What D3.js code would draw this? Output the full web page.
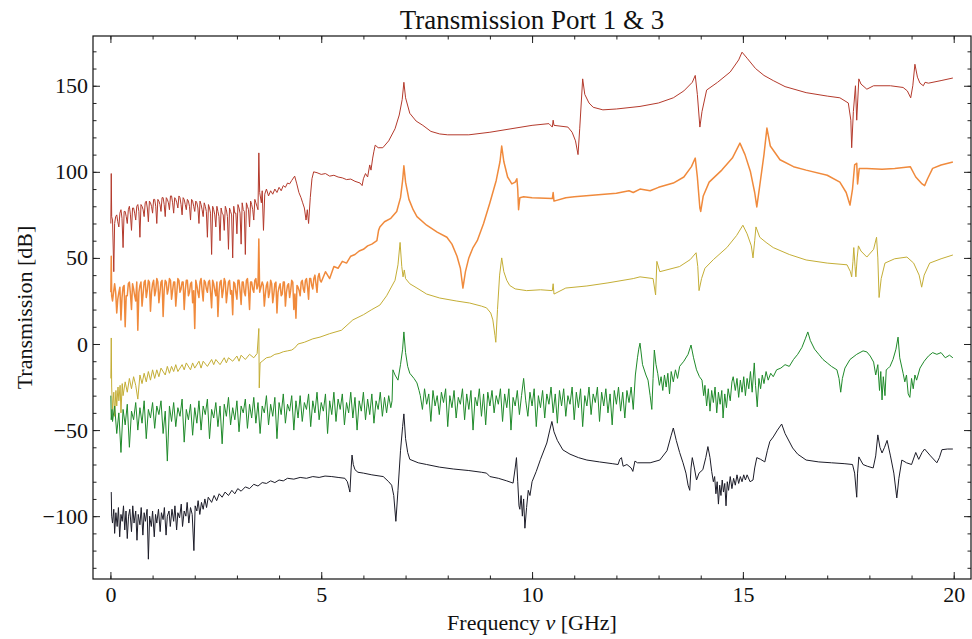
<!DOCTYPE html>
<html lang="en">
<head>
<meta charset="UTF-8">
<title>Transmission Port 1 &amp; 3</title>
<script src="https://d3js.org/d3.v7.min.js"></script>
<style>
  body { margin: 0; background: #fff; }
  svg { display: block; font-family: "Liberation Serif", "Times New Roman", serif; }
  .axis path { display: none; }
  .axis line { stroke: #222; }
  .axis text { font-size: 22px; fill: #111; font-family: "Liberation Serif", serif; }
  .trace { fill: none; stroke-linejoin: round; }
</style>
</head>
<body>
<script>
// [frequency GHz, transmission dB]
const red = [[0.01,70],[0.02,99],[0.03,74],[0.05,72],[0.08,42],[0.1,70],[0.15,75],[0.2,68],[0.25,78],[0.3,56],[0.35,77],[0.4,70],[0.45,80],[0.5,66],[0.55,79],[0.6,72],[0.65,81],[0.7,62],[0.75,80],[0.8,74],[0.85,83],[0.9,71],[0.95,82],[1.0,76],[1.05,84],[1.1,70],[1.15,83],[1.2,77],[1.25,85],[1.3,74],[1.35,84],[1.4,78],[1.45,86],[1.5,76],[1.55,84],[1.6,79],[1.65,85],[1.7,75],[1.75,84],[1.8,78],[1.85,83],[1.9,72],[1.95,83],[2.0,77],[2.05,82],[2.1,70],[2.15,81],[2.2,74],[2.25,80],[2.3,62],[2.35,79],[2.4,52],[2.45,78],[2.5,68],[2.55,77],[2.6,60],[2.65,76],[2.7,66],[2.75,78],[2.8,55],[2.85,77],[2.9,50],[2.95,76],[3.0,64],[3.05,79],[3.1,58],[3.15,78],[3.2,52],[3.25,80],[3.3,68],[3.35,81],[3.4,72],[3.45,82],[3.5,78],[3.52,111],[3.54,88],[3.58,82],[3.6,89],[3.63,66],[3.66,87],[3.7,90],[3.75,86],[3.8,89],[3.85,87],[3.9,90],[3.95,88],[4.0,91],[4.05,89],[4.1,92],[4.15,91],[4.2,93.5],[4.25,93],[4.3,95],[4.37,97.5],[4.42,93],[4.47,88],[4.52,85],[4.56,82],[4.6,79],[4.64,72],[4.67,78],[4.7,70],[4.74,85],[4.78,96],[4.82,100],[4.9,99.5],[5.0,98.5],[5.1,99],[5.2,97.5],[5.3,98],[5.4,97],[5.5,96.5],[5.6,95.5],[5.7,95.8],[5.8,94.5],[5.92,93.5],[5.97,92],[6.0,96],[6.05,99],[6.1,97],[6.15,104],[6.18,101],[6.22,108],[6.25,112],[6.28,115.5],[6.35,114],[6.46,114],[6.6,118],[6.75,125],[6.85,133],[6.92,142],[6.96,152],[7.0,143],[7.1,134],[7.25,129.5],[7.41,127],[7.6,123.5],[7.81,122],[8.0,121.5],[8.5,121.5],[9.0,123],[9.5,125],[10.0,127],[10.4,128],[10.48,126],[10.5,130],[10.52,127],[10.85,126],[10.95,123],[11.03,118],[11.09,110],[11.13,125],[11.2,154],[11.25,145],[11.35,140],[11.45,137.5],[11.68,136],[12.0,136.5],[12.56,138],[13.0,140],[13.35,143],[13.6,147],[13.8,152],[13.87,156],[13.92,145],[13.98,126],[14.03,135],[14.14,147.5],[14.4,152],[14.7,158],[14.9,165],[14.98,169.5],[15.1,166],[15.3,160],[15.5,156],[15.72,153],[16.0,149.5],[16.5,146],[17.0,144],[17.3,143],[17.5,140],[17.56,130],[17.58,114],[17.62,135],[17.67,150],[17.7,130],[17.75,154],[17.8,151],[17.94,148],[18.1,150],[18.5,150],[18.8,149],[18.9,147],[18.98,143],[19.03,150],[19.08,162.5],[19.14,155],[19.2,151.5],[19.28,150],[19.32,152],[19.4,151.5],[19.7,153],[19.98,154.5]];
// extra samples inside the dense low-frequency noise band
const redBand = [[0.125,74],[0.175,71],[0.225,76],[0.275,73],[0.325,77],[0.375,74],[0.425,78],[0.475,75],[0.525,79],[0.575,76],[0.625,80],[0.675,77],[0.725,81],[0.775,78],[0.825,82],[0.875,79],[0.925,83],[0.975,80],[1.025,84],[1.075,80],[1.125,84],[1.175,81],[1.225,85],[1.275,81],[1.325,85],[1.375,82],[1.425,86],[1.475,82],[1.525,85],[1.575,82],[1.625,86],[1.675,81],[1.725,85],[1.775,81],[1.825,84],[1.875,80],[1.925,84],[1.975,80],[2.025,83],[2.075,79],[2.125,83],[2.175,78],[2.225,82],[2.275,77],[2.325,81],[2.375,76],[2.425,80],[2.475,75],[2.525,80],[2.575,74],[2.625,79],[2.675,75],[2.725,80],[2.775,74],[2.825,79],[2.875,75],[2.925,80],[2.975,76],[3.025,81],[3.075,76],[3.125,82],[3.175,77],[3.225,82],[3.275,78],[3.325,83],[3.375,78],[3.425,84],[3.475,80]];

const orange = [[0.01,30],[0.02,51],[0.03,28],[0.05,25],[0.1,35],[0.15,18],[0.2,30],[0.25,14],[0.3,33],[0.35,10],[0.4,28],[0.45,36],[0.5,20],[0.55,32],[0.6,25],[0.65,8],[0.7,34],[0.75,22],[0.8,36],[0.85,27],[0.9,37],[0.95,19],[1.0,35],[1.05,28],[1.1,38],[1.15,24],[1.2,36],[1.25,16],[1.3,37],[1.35,29],[1.4,38],[1.45,26],[1.5,36],[1.55,22],[1.6,38],[1.65,30],[1.7,36],[1.75,20],[1.8,37],[1.85,28],[1.9,35],[1.95,24],[2.0,9],[2.05,34],[2.1,27],[2.15,38],[2.2,25],[2.25,36],[2.3,30],[2.35,37],[2.4,21],[2.45,35],[2.5,28],[2.55,16],[2.6,36],[2.65,27],[2.7,38],[2.75,24],[2.8,36],[2.85,29],[2.9,17],[2.95,35],[3.0,26],[3.05,37],[3.1,23],[3.15,36],[3.2,28],[3.25,38],[3.3,20],[3.35,36],[3.4,30],[3.45,38],[3.5,34],[3.52,61],[3.54,30],[3.6,36],[3.65,22],[3.7,34],[3.75,27],[3.8,37],[3.85,24],[3.9,35],[3.95,18],[4.0,33],[4.05,28],[4.1,36],[4.15,22],[4.2,34],[4.25,27],[4.3,37],[4.35,20],[4.4,15],[4.45,33],[4.5,28],[4.55,37],[4.6,30],[4.65,38],[4.7,26],[4.75,38],[4.8,32],[4.85,40],[4.9,30],[4.95,41],[5.0,36],[5.1,42],[5.2,38],[5.3,45],[5.4,44],[5.5,48],[5.6,47],[5.7,51],[5.8,52],[5.9,54],[6.0,55],[6.1,57],[6.2,58],[6.32,60],[6.36,66],[6.39,68],[6.5,71],[6.65,73],[6.79,77],[6.88,85],[6.93,95],[6.96,103.5],[7.0,94],[7.08,84],[7.18,78],[7.27,74],[7.5,69],[7.75,65],[7.98,62],[8.1,58],[8.22,51],[8.3,44],[8.36,32.5],[8.42,42],[8.5,50],[8.6,56],[8.7,60],[8.85,70],[9.0,82],[9.15,95],[9.24,106],[9.28,115],[9.33,106],[9.42,97],[9.52,93],[9.6,94],[9.64,96],[9.66,90],[9.68,78],[9.71,85],[9.8,85.5],[10.0,85],[10.48,84.5],[10.5,88],[10.52,83],[10.8,85],[11.0,85.5],[11.5,86.5],[12.0,87.5],[12.3,89],[12.4,88],[12.56,90],[12.8,89],[13.0,91],[13.35,93.5],[13.6,97],[13.78,103],[13.87,108],[13.92,97],[13.98,79],[14.0,77],[14.06,86],[14.2,94],[14.5,101],[14.75,108],[14.93,116.7],[15.05,110],[15.18,100],[15.28,88],[15.33,79.6],[15.4,92],[15.5,110],[15.57,125.4],[15.65,115],[15.88,107],[16.2,103],[16.5,101],[17.0,98],[17.3,94],[17.45,88],[17.54,80.7],[17.6,90],[17.65,104],[17.7,105],[17.72,93],[17.76,102],[17.94,102],[18.3,101.5],[18.6,102],[18.97,103],[19.1,97],[19.25,93],[19.31,92],[19.38,96],[19.5,102],[19.7,104],[19.98,105.7]];
const orangeBand = [[0.125,30],[0.175,26],[0.225,33],[0.275,27],[0.325,34],[0.375,28],[0.425,35],[0.475,29],[0.525,35],[0.575,28],[0.625,36],[0.675,30],[0.725,36],[0.775,29],[0.825,37],[0.875,31],[0.925,36],[0.975,30],[1.025,37],[1.075,31],[1.125,36],[1.175,30],[1.225,37],[1.275,31],[1.325,36],[1.375,32],[1.425,37],[1.475,31],[1.525,36],[1.575,30],[1.625,37],[1.675,32],[1.725,36],[1.775,31],[1.825,37],[1.875,30],[1.925,36],[1.975,31],[2.025,37],[2.075,30],[2.125,36],[2.175,31],[2.225,37],[2.275,32],[2.325,36],[2.375,30],[2.425,37],[2.475,31],[2.525,36],[2.575,30],[2.625,37],[2.675,31],[2.725,36],[2.775,30],[2.825,37],[2.875,31],[2.925,36],[2.975,30],[3.025,37],[3.075,31],[3.125,36],[3.175,30],[3.225,37],[3.275,31],[3.325,36],[3.375,32],[3.425,37],[3.475,32],[3.625,34],[3.675,29],[3.725,36],[3.775,30],[3.825,35],[3.875,29],[3.925,36],[3.975,30],[4.025,35],[4.075,29],[4.125,36],[4.175,30],[4.225,35],[4.275,31],[4.325,36],[4.375,29],[4.425,34],[4.475,31],[4.525,36],[4.575,32],[4.625,37],[4.675,33],[4.725,38],[4.775,34],[4.825,38],[4.875,35],[4.925,39],[4.975,37]];

const yellow = [[0.01,-20],[0.02,3.5],[0.03,-25],[0.05,-38],[0.08,-28],[0.1,-42],[0.13,-27],[0.15,-36],[0.18,-25],[0.2,-33],[0.23,-24],[0.25,-40],[0.28,-23],[0.3,-30],[0.35,-22],[0.4,-28],[0.45,-20],[0.5,-26],[0.55,-19],[0.6,-24],[0.65,-32],[0.7,-18],[0.75,-23],[0.8,-17],[0.85,-22],[0.9,-16],[0.95,-21],[1.0,-15],[1.05,-20],[1.1,-15],[1.15,-19],[1.2,-14],[1.3,-18],[1.35,-13],[1.4,-17],[1.45,-13],[1.5,-16],[1.55,-12],[1.6,-16],[1.7,-12],[1.75,-15],[1.8,-11],[1.9,-15],[1.95,-11],[2.0,-14],[2.1,-10],[2.15,-14],[2.2,-10],[2.3,-13],[2.4,-9],[2.45,-12],[2.5,-9],[2.6,-12],[2.7,-8],[2.75,-11],[2.8,-8],[2.9,-10],[3.0,-7],[3.05,-10],[3.1,-6.5],[3.2,-9],[3.3,-6],[3.4,-8],[3.48,-5.5],[3.52,9],[3.53,-25.5],[3.55,-11],[3.6,-10],[3.7,-8],[3.8,-7.5],[3.9,-6],[4.0,-5.5],[4.1,-4.5],[4.2,-4],[4.3,-3.5],[4.37,-2.3],[4.45,0],[4.6,1],[4.8,3],[4.97,4],[5.2,6],[5.48,8],[5.75,14],[6.0,17],[6.2,20],[6.39,22.6],[6.55,28],[6.75,37],[6.82,46],[6.87,59],[6.91,45],[6.94,39],[6.97,43],[7.0,38],[7.1,35],[7.27,32.5],[7.5,29],[7.81,26.7],[8.2,25],[8.52,23.8],[8.8,22],[8.92,21],[9.02,18],[9.07,14],[9.12,5],[9.14,1],[9.18,20],[9.23,40],[9.28,50],[9.33,42],[9.4,37],[9.47,34],[9.6,32],[9.87,31],[10.2,31.5],[10.48,31],[10.5,35],[10.52,29],[10.8,32.5],[11.3,33.7],[11.8,35.5],[12.4,38],[12.56,39],[12.87,38],[12.93,28.5],[12.96,48],[13.03,42],[13.5,45],[13.75,49],[13.89,53],[13.93,45],[13.96,31],[14.02,38],[14.1,44],[14.3,49],[14.62,56],[14.85,63],[15.0,69],[15.1,64],[15.2,57],[15.24,50],[15.28,60],[15.31,68],[15.4,62],[15.55,59],[15.72,56],[16.1,52],[16.5,48.8],[17.0,47],[17.47,46],[17.55,42],[17.58,39],[17.61,48],[17.63,56],[17.66,45],[17.68,39],[17.71,50],[17.74,57],[17.8,54],[17.94,50.5],[18.1,55],[18.17,62],[18.2,50],[18.23,27],[18.28,38],[18.37,47],[18.6,49.5],[18.89,50.5],[19.05,47],[19.18,40],[19.24,33],[19.3,40],[19.43,47],[19.7,49.5],[19.98,51.7]];

const green = [[0.01,-30],[0.02,-44],[0.04,-38],[0.05,-45],[0.1,-36],[0.15,-52],[0.2,-40],[0.25,-63],[0.3,-38],[0.35,-47],[0.4,-35],[0.45,-60],[0.5,-39],[0.55,-44],[0.6,-34],[0.65,-50],[0.7,-37],[0.75,-46],[0.8,-33],[0.85,-55],[0.9,-38],[0.95,-43],[1.0,-34],[1.05,-49],[1.1,-36],[1.15,-41],[1.2,-33],[1.25,-52],[1.3,-39],[1.35,-68],[1.4,-36],[1.45,-45],[1.5,-34],[1.55,-48],[1.6,-37],[1.65,-42],[1.7,-32],[1.75,-57],[1.8,-38],[1.85,-44],[1.9,-35],[1.95,-53],[2.0,-37],[2.05,-46],[2.1,-33],[2.15,-50],[2.2,-36],[2.25,-41],[2.3,-32],[2.35,-55],[2.4,-38],[2.45,-43],[2.5,-34],[2.55,-48],[2.6,-36],[2.65,-58],[2.7,-35],[2.75,-42],[2.8,-31],[2.85,-47],[2.9,-37],[2.95,-44],[3.0,-33],[3.05,-51],[3.1,-36],[3.15,-40],[3.2,-32],[3.25,-49],[3.3,-35],[3.35,-43],[3.4,-31],[3.45,-46],[3.5,-34],[3.55,-52],[3.6,-36],[3.65,-40],[3.7,-30],[3.75,-47],[3.8,-35],[3.85,-42],[3.9,-31],[3.95,-55],[4.0,-34],[4.05,-41],[4.1,-29],[4.15,-46],[4.2,-35],[4.25,-39],[4.3,-30],[4.35,-50],[4.4,-33],[4.45,-43],[4.5,-30],[4.55,-45],[4.6,-34],[4.65,-38],[4.7,-29],[4.75,-48],[4.8,-33],[4.85,-40],[4.9,-28],[4.95,-44],[5.0,-34],[5.05,-39],[5.1,-29],[5.15,-52],[5.2,-33],[5.25,-41],[5.3,-28],[5.35,-45],[5.4,-32],[5.45,-38],[5.5,-29],[5.55,-47],[5.6,-34],[5.65,-40],[5.7,-28],[5.75,-43],[5.8,-31],[5.85,-50],[5.9,-33],[5.95,-39],[6.0,-28],[6.05,-44],[6.1,-32],[6.15,-41],[6.2,-29],[6.25,-46],[6.3,-33],[6.35,-38],[6.4,-28],[6.45,-42],[6.5,-31],[6.55,-40],[6.6,-30],[6.65,-37],[6.68,-33],[6.7,-15],[6.75,-18],[6.82,-21],[6.88,-12],[6.93,-3],[6.96,7],[7.0,-5],[7.05,-13],[7.1,-17],[7.2,-20],[7.27,-22.6],[7.32,-27],[7.35,-30],[7.4,-38],[7.45,-26],[7.5,-35],[7.55,-29],[7.6,-45],[7.65,-27],[7.7,-36],[7.75,-30],[7.8,-41],[7.85,-28],[7.9,-34],[7.95,-26],[8.0,-48],[8.05,-30],[8.1,-37],[8.15,-27],[8.2,-43],[8.25,-31],[8.3,-35],[8.35,-26],[8.4,-44],[8.45,-29],[8.5,-38],[8.55,-27],[8.6,-50],[8.65,-31],[8.7,-36],[8.75,-26],[8.8,-42],[8.85,-29],[8.9,-47],[8.95,-28],[9.0,-36],[9.05,-27],[9.1,-40],[9.15,-30],[9.2,-35],[9.25,-26],[9.3,-45],[9.35,-29],[9.4,-37],[9.45,-26],[9.5,-50],[9.55,-31],[9.6,-36],[9.65,-27],[9.7,-41],[9.75,-30],[9.8,-20],[9.85,-33],[9.9,-42],[9.95,-28],[10.0,-36],[10.05,-26],[10.1,-48],[10.15,-30],[10.2,-37],[10.25,-27],[10.3,-43],[10.35,-29],[10.4,-35],[10.45,-25],[10.5,-40],[10.55,-29],[10.6,-46],[10.65,-27],[10.7,-36],[10.75,-26],[10.8,-42],[10.85,-30],[10.9,-35],[10.95,-25],[11.0,-44],[11.05,-28],[11.1,-37],[11.15,-26],[11.2,-48],[11.25,-30],[11.3,-36],[11.35,-25],[11.4,-41],[11.45,-29],[11.5,-34],[11.55,-25],[11.6,-45],[11.65,-28],[11.7,-36],[11.75,-26],[11.8,-40],[11.85,-29],[11.9,-47],[11.95,-27],[12.0,-35],[12.05,-25],[12.1,-39],[12.15,-28],[12.2,-43],[12.25,-27],[12.3,-34],[12.35,-25],[12.4,-38],[12.45,-18],[12.5,-8],[12.53,-3],[12.56,0.5],[12.62,-12],[12.7,-18],[12.75,-21],[12.8,-30],[12.84,-38],[12.87,-20],[12.9,-3.5],[12.94,-12],[12.98,-17],[13.02,-24],[13.06,-19],[13.1,-27],[13.14,-18],[13.18,-25],[13.22,-17],[13.26,-29],[13.3,-16],[13.35,-22],[13.4,-15],[13.45,-20],[13.5,-13],[13.6,-10],[13.7,-6],[13.77,-0.6],[13.83,-8],[13.9,-15],[13.97,-19],[14.03,-21],[14.07,-30],[14.1,-24],[14.14,-36],[14.18,-26],[14.22,-39],[14.26,-27],[14.3,-34],[14.34,-25],[14.38,-40],[14.42,-28],[14.46,-35],[14.5,-27],[14.53,-43],[14.57,-29],[14.61,-37],[14.65,-26],[14.7,-33],[14.74,-22],[14.77,-19],[14.82,-27],[14.86,-20],[14.9,-31],[14.94,-21],[14.98,-28],[15.02,-19],[15.06,-30],[15.1,-20],[15.14,-26],[15.18,-16],[15.22,-28],[15.27,-11],[15.3,-24],[15.34,-36.5],[15.38,-20],[15.42,-26],[15.46,-18],[15.5,-23],[15.55,-16],[15.6,-21],[15.66,-17],[15.72,-19],[15.8,-15],[15.9,-14],[16.0,-12],[16.1,-13],[16.2,-9],[16.3,-6],[16.4,-2],[16.48,3],[16.54,7],[16.6,2],[16.7,-3],[16.8,-6],[16.9,-9],[17.0,-11],[17.1,-13],[17.23,-15],[17.28,-20],[17.32,-28],[17.36,-20],[17.42,-14],[17.54,-9],[17.7,-6],[17.85,-4],[17.94,-4.6],[18.02,-7],[18.1,-10.5],[18.15,-18],[18.2,-12],[18.24,-27],[18.27,-16],[18.3,-32.5],[18.33,-19],[18.37,-30],[18.4,-15],[18.45,-14],[18.49,-13],[18.56,-9],[18.63,-3],[18.68,4],[18.72,-8],[18.8,-17],[18.84,-22],[18.88,-18],[18.92,-29],[18.96,-31],[19.0,-20],[19.04,-26],[19.08,-18],[19.12,-21],[19.2,-14],[19.3,-10],[19.4,-7],[19.5,-5],[19.6,-6],[19.7,-5],[19.8,-8],[19.9,-6.5],[19.98,-8]];

const black = [[0.02,-86],[0.03,-100],[0.05,-104],[0.08,-96],[0.1,-110],[0.13,-98],[0.16,-106],[0.19,-95],[0.22,-112],[0.25,-99],[0.28,-103],[0.31,-94],[0.34,-108],[0.37,-97],[0.4,-113],[0.43,-100],[0.46,-96],[0.5,-109],[0.53,-94],[0.56,-104],[0.6,-97],[0.63,-114],[0.66,-99],[0.7,-105],[0.73,-95],[0.77,-111],[0.8,-98],[0.83,-103],[0.87,-96],[0.9,-125],[0.93,-100],[0.97,-106],[1.0,-97],[1.04,-112],[1.07,-99],[1.1,-104],[1.14,-96],[1.18,-109],[1.21,-98],[1.25,-102],[1.28,-95],[1.32,-111],[1.35,-100],[1.39,-97],[1.42,-106],[1.46,-96],[1.5,-103],[1.53,-94],[1.57,-108],[1.6,-98],[1.64,-101],[1.68,-93],[1.71,-106],[1.75,-97],[1.79,-100],[1.82,-92],[1.86,-104],[1.9,-95],[1.94,-99],[1.98,-120],[2.01,-94],[2.05,-97],[2.08,-91],[2.12,-99],[2.16,-92],[2.2,-96],[2.24,-90],[2.28,-95],[2.32,-89],[2.4,-92],[2.46,-88],[2.52,-91],[2.58,-87],[2.65,-89],[2.72,-86],[2.8,-88],[2.88,-85],[2.95,-87],[3.02,-84],[3.1,-85.5],[3.2,-83],[3.3,-84],[3.4,-81.5],[3.5,-82.5],[3.6,-80.5],[3.7,-81],[3.8,-79.5],[3.9,-80.5],[4.0,-79],[4.1,-79.5],[4.2,-78],[4.35,-78.5],[4.5,-77.5],[4.65,-78],[4.8,-77],[4.95,-77.5],[5.09,-76.7],[5.25,-77],[5.4,-77.5],[5.56,-78],[5.62,-80],[5.66,-84],[5.68,-86],[5.71,-72],[5.73,-64.5],[5.76,-70],[5.8,-73],[5.87,-74.5],[6.0,-75],[6.2,-76],[6.47,-77],[6.6,-80],[6.67,-82],[6.72,-88],[6.77,-103],[6.82,-85],[6.88,-62],[6.93,-48],[6.96,-40.6],[7.0,-55],[7.05,-63],[7.1,-67],[7.3,-69],[7.5,-70],[7.8,-71.5],[8.13,-72.6],[8.5,-73.5],[8.8,-74.5],[8.92,-75],[9.0,-77],[9.2,-78],[9.4,-79.5],[9.55,-80.8],[9.6,-72],[9.63,-66],[9.66,-80],[9.69,-94],[9.71,-96],[9.74,-88],[9.77,-100],[9.8,-90],[9.83,-107],[9.87,-95],[9.91,-85],[9.95,-88],[10.0,-80],[10.1,-74],[10.2,-67],[10.35,-57.5],[10.42,-50],[10.47,-45],[10.52,-51],[10.6,-56],[10.73,-61.5],[10.9,-64],[11.1,-66],[11.3,-67.4],[11.6,-68.5],[11.9,-69.5],[12.04,-70],[12.08,-67],[12.12,-66],[12.16,-71],[12.25,-70],[12.35,-72],[12.39,-74],[12.44,-68],[12.5,-69],[12.8,-69],[13.03,-67.4],[13.2,-62],[13.3,-53],[13.35,-48.8],[13.42,-56],[13.5,-63],[13.58,-69],[13.65,-75],[13.7,-82],[13.74,-85],[13.77,-72],[13.8,-66],[13.85,-72],[13.9,-79],[13.96,-75],[14.05,-73],[14.12,-66],[14.17,-59.6],[14.22,-66],[14.26,-74],[14.3,-80],[14.33,-77],[14.36,-87],[14.39,-80],[14.42,-93],[14.45,-82],[14.48,-88],[14.51,-79],[14.54,-86],[14.57,-81],[14.6,-94],[14.63,-80],[14.66,-85],[14.7,-77],[14.74,-84],[14.78,-78],[14.82,-82],[14.86,-76],[14.9,-81],[14.94,-77],[14.98,-80],[15.02,-76],[15.06,-79],[15.1,-76],[15.17,-80],[15.24,-79],[15.28,-72],[15.33,-66],[15.42,-67],[15.52,-68.5],[15.58,-62],[15.64,-56.6],[15.72,-54],[15.82,-50],[15.92,-46.5],[16.0,-52],[16.18,-60.4],[16.3,-64],[16.5,-67.4],[16.8,-68.5],[17.1,-69],[17.4,-69.5],[17.6,-70],[17.65,-75],[17.7,-89],[17.72,-75],[17.75,-65.6],[17.85,-70],[17.95,-71],[18.09,-72],[18.15,-65],[18.2,-52.8],[18.25,-60],[18.3,-63.3],[18.36,-60],[18.42,-56],[18.5,-65],[18.58,-75],[18.65,-89.4],[18.7,-78],[18.77,-67.4],[18.88,-69],[19.0,-70],[19.1,-63],[19.17,-67],[19.25,-63],[19.31,-61],[19.45,-65],[19.6,-69],[19.66,-66],[19.72,-61.4],[19.85,-61],[19.98,-61]];

const xMajor = [0, 5, 10, 15, 20];
const xMinor = [0,1,2,3,4,5,6,7,8,9,10,11,12,13,14,15,16,17,18,19,20];
const yMajor = [-100, -50, 0, 50, 100, 150];
const yMinor = [-130,-120,-110,-100,-90,-80,-70,-60,-50,-40,-30,-20,-10,0,10,20,30,40,50,60,70,80,90,100,110,120,130,140,150,160,170];

const byFreq = (a, b) => a[0] - b[0];
const traces = [
  { data: red.concat(redBand).sort(byFreq),       color: "#b43a2c", w: 1 },
  { data: orange.concat(orangeBand).sort(byFreq), color: "#f08a3c", w: 1.5 },
  { data: yellow, color: "#c4ae36", w: 1 },
  { data: green,  color: "#1f8a2a", w: 1 },
  { data: black,  color: "#1c1c28", w: 1 }
];

const width = 972, height = 639;
const plotL = 93, plotR = 971, plotT = 36, plotB = 579;

const x = d3.scaleLinear().domain([-0.413, 20.41]).range([plotL, plotR]);
const y = d3.scaleLinear().domain([-136.5, 178.9]).range([plotB, plotT]);

const svg = d3.select("body").append("svg")
  .attr("width", width)
  .attr("height", height);

svg.append("defs").append("clipPath").attr("id", "plot")
  .append("rect")
  .attr("x", plotL).attr("y", plotT)
  .attr("width", plotR - plotL).attr("height", plotB - plotT);

const line = d3.line().x(d => x(d[0])).y(d => y(d[1]));

svg.append("g").attr("clip-path", "url(#plot)")
  .selectAll("path")
  .data(traces)
  .join("path")
  .attr("class", "trace")
  .attr("stroke", d => d.color)
  .attr("stroke-width", d => d.w)
  .attr("d", d => line(d.data));

// frame ticks on all four sides, pointing inward
function addAxis(axis, tx, ty) {
  svg.append("g").attr("class", "axis")
    .attr("transform", `translate(${tx},${ty})`)
    .call(axis);
}
addAxis(d3.axisBottom(x).tickValues(xMinor).tickSize(-3.5).tickFormat(""), 0, plotB);
addAxis(d3.axisBottom(x).tickValues(xMajor).tickSizeInner(-7).tickSizeOuter(0).tickPadding(7).tickFormat(d3.format("d")), 0, plotB);
addAxis(d3.axisTop(x).tickValues(xMinor).tickSize(-3.5).tickFormat(""), 0, plotT);
addAxis(d3.axisTop(x).tickValues(xMajor).tickSize(-7).tickFormat(""), 0, plotT);
addAxis(d3.axisLeft(y).tickValues(yMinor).tickSize(-3.5).tickFormat(""), plotL, 0);
addAxis(d3.axisLeft(y).tickValues(yMajor).tickSizeInner(-7).tickSizeOuter(0).tickPadding(5).tickFormat(d3.format("d")), plotL, 0);
addAxis(d3.axisRight(y).tickValues(yMinor).tickSize(-3.5).tickFormat(""), plotR, 0);
addAxis(d3.axisRight(y).tickValues(yMajor).tickSize(-7).tickFormat(""), plotR, 0);

svg.append("rect")
  .attr("x", plotL).attr("y", plotT)
  .attr("width", plotR - plotL).attr("height", plotB - plotT)
  .attr("fill", "none").attr("stroke", "#111").attr("stroke-width", 1.2);

svg.append("text")
  .attr("x", (plotL + plotR) / 2).attr("y", 29)
  .attr("text-anchor", "middle")
  .attr("font-size", 27).attr("fill", "#111")
  .text("Transmission Port 1 & 3");

const xl = svg.append("text")
  .attr("x", (plotL + plotR) / 2).attr("y", 630)
  .attr("text-anchor", "middle")
  .attr("font-size", 22).attr("fill", "#111");
xl.append("tspan").text("Frequency ");
xl.append("tspan").attr("font-style", "italic").text("ν");
xl.append("tspan").text(" [GHz]");

svg.append("text")
  .attr("transform", `translate(32,${(plotT + plotB) / 2}) rotate(-90)`)
  .attr("text-anchor", "middle")
  .attr("font-size", 22).attr("fill", "#111")
  .text("Transmission [dB]");
</script>
</body>
</html>
